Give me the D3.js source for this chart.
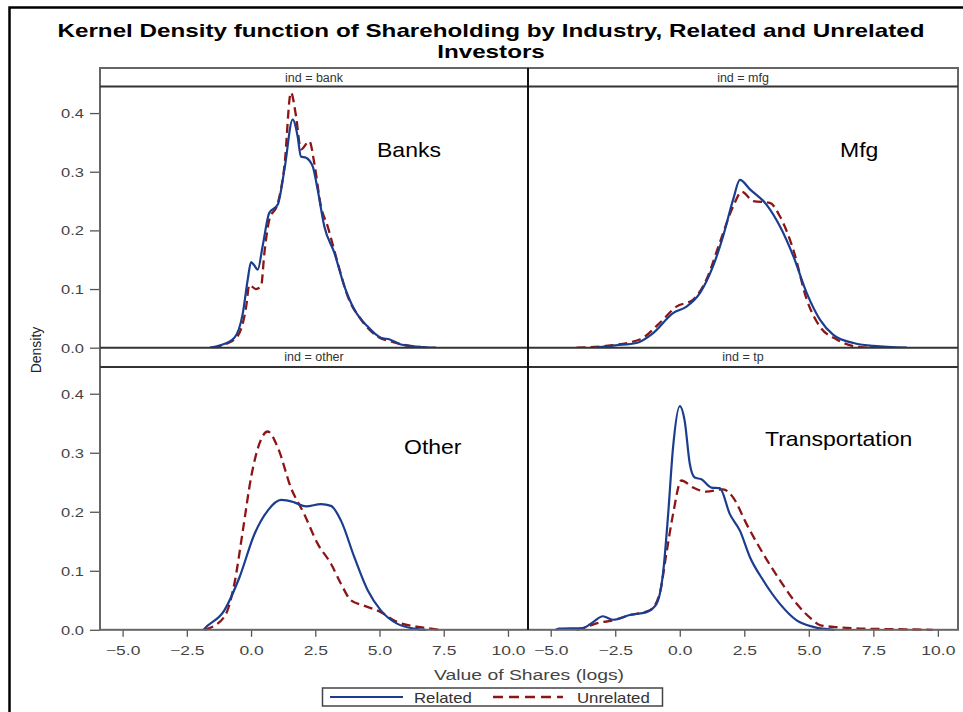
<!DOCTYPE html>
<html>
<head>
<meta charset="utf-8">
<script src="https://cdn.jsdelivr.net/npm/d3@7"></script>
<style>
  body { margin: 0; background: #fff; }
  text { font-family: "Liberation Sans", Arial, sans-serif; }
</style>
</head>
<body>
<script>
// industries (facets) and the labels drawn inside each panel
var industries = ["bank", "mfg", "other", "tp"];
var panelNames = ["Banks", "Mfg", "Other", "Transportation"];
var seriesNames = ["Related", "Unrelated"];
var xTicks = [-5, -2.5, 0, 2.5, 5, 7.5, 10];
var yTicks = [0, 0.1, 0.2, 0.3, 0.4];

// kernel density estimates: [value of shares (log), density]
var bankRelated = [[-1.6,0],[-1.2,0.004],[-0.65,0.017],[-0.32,0.059],[-0.13,0.116],[0,0.146],[0.13,0.14],[0.26,0.133],[0.45,0.173],[0.71,0.23],[1.04,0.244],[1.3,0.304],[1.62,0.389],[1.81,0.361],[1.94,0.326],[2.14,0.324],[2.4,0.309],[2.59,0.27],[2.85,0.207],[3.24,0.162],[3.63,0.105],[4.02,0.065],[4.54,0.036],[5.05,0.017],[5.4,0.014],[5.8,0.006],[6.4,0.002],[7.2,0]];
var bankUnrelated = [[-1.5,0],[-1.0,0.006],[-0.52,0.02],[-0.19,0.07],[-0.07,0.107],[0.19,0.1],[0.39,0.105],[0.52,0.162],[0.71,0.218],[1.04,0.246],[1.3,0.31],[1.55,0.435],[1.75,0.395],[1.94,0.338],[2.27,0.352],[2.46,0.315],[2.72,0.241],[2.98,0.207],[3.37,0.145],[3.76,0.088],[4.28,0.048],[4.92,0.019],[5.5,0.01],[6.2,0.003],[6.9,0]];
var mfgRelated = [[-3.3,0],[-2.5,0.004],[-1.68,0.008],[-1.03,0.025],[-0.26,0.059],[0.26,0.07],[0.78,0.093],[1.29,0.139],[1.68,0.19],[2.07,0.253],[2.33,0.286],[2.72,0.27],[3.36,0.244],[3.88,0.207],[4.4,0.156],[4.92,0.093],[5.43,0.048],[5.95,0.022],[6.73,0.008],[7.5,0.003],[8.8,0]];
var mfgUnrelated = [[-4.0,0],[-2.87,0.003],[-1.55,0.014],[-0.78,0.042],[-0.13,0.07],[0.52,0.082],[1.03,0.116],[1.55,0.179],[2.07,0.241],[2.4,0.266],[2.85,0.25],[3.49,0.247],[3.88,0.224],[4.4,0.167],[4.92,0.082],[5.43,0.036],[6.08,0.014],[6.98,0.001],[7.5,0]];
var otherRelated = [[-1.85,0],[-1.81,0.002],[-1.04,0.033],[-0.45,0.089],[0.13,0.162],[0.65,0.202],[1.17,0.22],[1.68,0.216],[2.14,0.209],[2.72,0.213],[3.11,0.21],[3.5,0.185],[4.02,0.123],[4.54,0.067],[5.05,0.033],[5.7,0.01],[6.35,0.002],[6.8,0]];
var otherUnrelated = [[-1.8,0],[-1.04,0.022],[-0.65,0.078],[-0.32,0.168],[0,0.258],[0.32,0.315],[0.65,0.336],[1.04,0.309],[1.55,0.241],[2.07,0.196],[2.59,0.146],[3.11,0.112],[3.5,0.078],[3.89,0.05],[4.4,0.041],[5.05,0.03],[5.7,0.013],[7.0,0.002],[7.3,0]];
var tpRelated = [[-4.8,0],[-4.66,0.002],[-3.75,0.003],[-3.36,0.013],[-2.98,0.023],[-2.59,0.017],[-1.94,0.025],[-1.29,0.03],[-0.9,0.044],[-0.65,0.095],[-0.45,0.196],[-0.26,0.309],[0,0.379],[0.19,0.354],[0.39,0.281],[0.58,0.258],[0.84,0.255],[1.23,0.241],[1.55,0.24],[1.94,0.196],[2.33,0.168],[2.72,0.123],[3.23,0.084],[3.88,0.044],[4.53,0.016],[5.17,0.005],[6.0,0]];
var tpUnrelated = [[-4.0,0],[-3.88,0.001],[-3.23,0.011],[-2.59,0.016],[-1.94,0.025],[-1.16,0.033],[-0.78,0.061],[-0.52,0.129],[-0.26,0.196],[0.06,0.253],[0.52,0.241],[1.03,0.234],[1.68,0.238],[2.07,0.224],[2.59,0.179],[3.23,0.129],[3.88,0.084],[4.53,0.044],[5.17,0.016],[5.43,0.008],[6.2,0.004],[7.0,0.002],[8.5,0.001],[9.8,0]];

var related = [bankRelated, mfgRelated, otherRelated, tpRelated];
var unrelated = [bankUnrelated, mfgUnrelated, otherUnrelated, tpUnrelated];

var blue = "#1b3d8f", red = "#8c1616";

var svg = d3.select("body").append("svg")
    .attr("width", 963)
    .attr("height", 712);

// stretched text helper (the reference text is drawn wide)
function stext(g, x, y, str, size, sx, anchor, weight, fill) {
    return g.append("text")
        .attr("transform", "translate(" + x + "," + y + ") scale(" + sx + ",1)")
        .attr("text-anchor", anchor || "start")
        .attr("font-size", size + "px")
        .attr("font-weight", weight || "normal")
        .attr("fill", fill || "#000")
        .text(str);
}

// outer frame
svg.append("path").attr("d", "M9.5,712 V7.5 H963")
    .attr("fill", "none").attr("stroke", "#000").attr("stroke-width", 2.5);

// title
stext(svg, 491, 37, "Kernel Density function of Shareholding by Industry, Related and Unrelated", 18, 1.345, "middle", "bold");
stext(svg, 491, 57.5, "Investors", 18, 1.345, "middle", "bold");

var cols = [[100, 528], [528, 958]];
var rows = [{ strip: 68, top: 86.5, bottom: 347.7 }, { strip: 347.7, top: 367, bottom: 629.8 }];

var line = d3.line().curve(d3.curveMonotoneX);

industries.forEach(function(ind, i) {
    var c = cols[i % 2], r = rows[Math.floor(i / 2)];
    var x = d3.scaleLinear().domain([-5.88, 10.78]).range(c);
    var y = d3.scaleLinear().domain([0, 0.4453]).range([r.bottom, r.top]);
    var g = svg.append("g");

    // strip header
    g.append("rect").attr("x", c[0]).attr("y", r.strip).attr("width", c[1] - c[0]).attr("height", r.top - r.strip)
        .attr("fill", "#fff");
    stext(g, (c[0] + c[1]) / 2, r.strip + 13.5, "ind = " + ind, 12.5, 1.0, "middle", "normal", "#333");

    line.x(function(d) { return x(d[0]); }).y(function(d) { return y(d[1]); });

    g.append("path").datum(unrelated[i]).attr("d", line)
        .attr("fill", "none").attr("stroke", red).attr("stroke-width", 2.3)
        .attr("stroke-dasharray", "9,5");
    g.append("path").datum(related[i]).attr("d", line)
        .attr("fill", "none").attr("stroke", blue).attr("stroke-width", 2.2);

    // panel label
    var lx = [377, 840, 404, 765][i], ly = [157, 157, 454, 446][i];
    stext(g, lx, ly, panelNames[i], 20, 1.15);

    // y axis on left column
    if (i % 2 == 0) {
        var ya = g.append("g").attr("transform", "translate(" + c[0] + ",0)")
            .call(d3.axisLeft(y).tickValues(yTicks).tickSize(10).tickFormat(d3.format(".1f")));
        ya.select(".domain").remove();
        ya.selectAll(".tick line").attr("stroke", "#555").attr("stroke-width", 1.3);
        ya.selectAll(".tick text").remove();
        ya.selectAll(".tick").each(function(d) {
            stext(d3.select(this), -16, 4.5, d3.format(".1f")(d), 12.5, 1.32, "end", "normal", "#444");
        });
    }
    // x axis on bottom row
    if (i >= 2) {
        var xa = g.append("g").attr("transform", "translate(0," + r.bottom + ")")
            .call(d3.axisBottom(x).tickValues(xTicks).tickSize(7));
        xa.select(".domain").remove();
        xa.selectAll(".tick line").attr("stroke", "#555").attr("stroke-width", 1.3);
        xa.selectAll(".tick text").remove();
        xa.selectAll(".tick").each(function(d) {
            stext(d3.select(this), 0, 25, d3.format(".1f")(d), 12.5, 1.4, "middle", "normal", "#444");
        });
    }
});

// panel lines
var frame = svg.append("g").attr("fill", "none");
frame.append("rect").attr("x", 100).attr("y", 68).attr("width", 858).attr("height", 629.8 - 68)
    .attr("stroke", "#666").attr("stroke-width", 2);
[86.5, 347.7, 367].forEach(function(yy) {
    frame.append("line").attr("x1", 100).attr("x2", 958).attr("y1", yy).attr("y2", yy)
        .attr("stroke", "#333").attr("stroke-width", 2);
});
frame.append("line").attr("x1", 528).attr("x2", 528).attr("y1", 68).attr("y2", 629.8)
    .attr("stroke", "#111").attr("stroke-width", 2);

// axis titles
stext(svg, 529, 680, "Value of Shares (logs)", 15.5, 1.25, "middle", "normal", "#444");
svg.append("text")
    .attr("transform", "translate(41,350) rotate(-90)")
    .attr("text-anchor", "middle")
    .attr("font-size", "14px")
    .attr("fill", "#222")
    .text("Density");

// legend
var lg = svg.append("g");
lg.append("rect").attr("x", 322.5).attr("y", 688).attr("width", 340).attr("height", 18)
    .attr("fill", "#fff").attr("stroke", "#444").attr("stroke-width", 1.5);
lg.append("line").attr("x1", 330).attr("x2", 403).attr("y1", 697).attr("y2", 697)
    .attr("stroke", blue).attr("stroke-width", 2.2);
stext(lg, 414, 702.5, seriesNames[0], 14, 1.2, "start", "normal", "#333");
lg.append("line").attr("x1", 493).attr("x2", 563).attr("y1", 697).attr("y2", 697)
    .attr("stroke", red).attr("stroke-width", 2.3).attr("stroke-dasharray", "10,6");
stext(lg, 577, 702.5, seriesNames[1], 14, 1.2, "start", "normal", "#333");
</script>
</body>
</html>
